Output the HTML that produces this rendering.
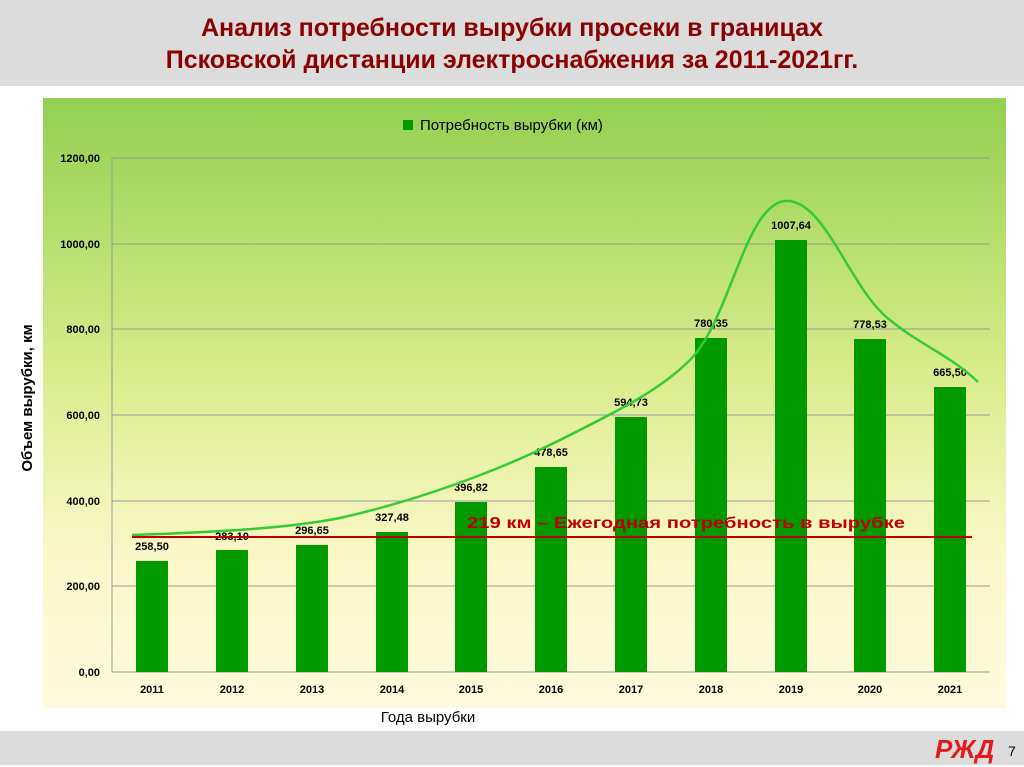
<!DOCTYPE html>
<html><head><meta charset="utf-8"><style>
body{margin:0;width:1024px;height:767px;background:#fff;position:relative;overflow:hidden;font-family:"Liberation Sans",sans-serif}
.top{position:absolute;left:0;top:0;width:1024px;height:86px;background:#dcdcdc}
.title{position:absolute;left:0;top:12px;width:1024px;text-align:center;color:#8b0000;font-weight:bold;font-size:25px;line-height:32px;font-family:"Liberation Sans Narrow","Liberation Sans",sans-serif}
.bot{position:absolute;left:0;top:731px;width:1024px;height:34px;background:#dcdcdc}
</style></head><body>
<div class="top"></div>
<div class="title">Анализ потребности вырубки просеки в границах<br>Псковской дистанции электроснабжения за 2011-2021гг.</div>
<div class="bot"></div>
<svg width="1024" height="767" style="position:absolute;left:0;top:0" font-family="Liberation Sans, sans-serif">
<defs><linearGradient id="g" x1="0" y1="0" x2="0" y2="1">
<stop offset="0" stop-color="#92d050"/><stop offset="0.45" stop-color="#d9ec8c"/><stop offset="0.75" stop-color="#fbf8c8"/><stop offset="1" stop-color="#fffadc"/></linearGradient></defs>
<rect x="43" y="98" width="963" height="610" fill="url(#g)"/>
<rect x="403" y="120" width="10" height="10" fill="#009900"/>
<text x="420" y="130" font-size="15" fill="#000">Потребность вырубки (км)</text>
<g stroke="#999" stroke-width="1">
<line x1="112" y1="158" x2="990" y2="158"/><line x1="112" y1="244" x2="990" y2="244"/>
<line x1="112" y1="329" x2="990" y2="329"/><line x1="112" y1="415" x2="990" y2="415"/>
<line x1="112" y1="501" x2="990" y2="501"/><line x1="112" y1="586" x2="990" y2="586"/>
<line x1="112" y1="672" x2="990" y2="672"/><line x1="112" y1="158" x2="112" y2="672"/>
</g>
<g font-size="11" font-weight="bold" text-anchor="end" fill="#000">
<text x="100" y="162">1200,00</text><text x="100" y="248">1000,00</text><text x="100" y="333">800,00</text>
<text x="100" y="419">600,00</text><text x="100" y="505">400,00</text><text x="100" y="590">200,00</text><text x="100" y="676">0,00</text>
</g>
<text transform="translate(32,398) rotate(-90)" font-size="15" font-weight="bold" text-anchor="middle">Объем вырубки, км</text>
<text x="428" y="722" font-size="15" text-anchor="middle">Года вырубки</text>
<g fill="#009900">
<rect x="136" y="561" width="32" height="111"/><rect x="216" y="550" width="32" height="122"/>
<rect x="296" y="545" width="32" height="127"/><rect x="376" y="532" width="32" height="140"/>
<rect x="455" y="502" width="32" height="170"/><rect x="535" y="467" width="32" height="205"/>
<rect x="615" y="417" width="32" height="255"/><rect x="695" y="338" width="32" height="334"/>
<rect x="775" y="240" width="32" height="432"/><rect x="854" y="339" width="32" height="333"/>
<rect x="934" y="387" width="32" height="285"/>
</g>
<g font-size="11" font-weight="bold" text-anchor="middle">
<text x="152" y="550">258,50</text><text x="232" y="540">283,10</text><text x="312" y="534">296,65</text>
<text x="392" y="521">327,48</text><text x="471" y="491">396,82</text><text x="551" y="456">478,65</text>
<text x="631" y="406">594,73</text><text x="711" y="327">780,35</text><text x="791" y="229">1007,64</text>
<text x="870" y="328">778,53</text><text x="950" y="376">665,50</text>
</g>
<g font-size="11" font-weight="bold" text-anchor="middle">
<text x="152" y="693">2011</text><text x="232" y="693">2012</text><text x="312" y="693">2013</text>
<text x="392" y="693">2014</text><text x="471" y="693">2015</text><text x="551" y="693">2016</text>
<text x="631" y="693">2017</text><text x="711" y="693">2018</text><text x="791" y="693">2019</text>
<text x="870" y="693">2020</text><text x="950" y="693">2021</text>
</g>
<path d="M132,535 C220,532 290,528 340,518 C420,500 500,470 560,440 C620,410 660,390 690,360 C730,320 745,205 785,201 C825,198 850,290 890,320 C920,345 950,355 978,382" fill="none" stroke="#33cc33" stroke-width="2.5"/>
<line x1="132" y1="537" x2="972" y2="537" stroke="#c00000" stroke-width="2"/>
<text x="467" y="528" font-size="16" font-weight="bold" fill="#c00000" textLength="438" lengthAdjust="spacingAndGlyphs">219 км – Ежегодная потребность в вырубке</text>
<text x="935" y="758" font-size="26" font-weight="bold" font-style="italic" fill="#e21a1a">РЖД</text>
<text x="1008" y="756" font-size="14" fill="#000">7</text>
</svg>
</body></html>
